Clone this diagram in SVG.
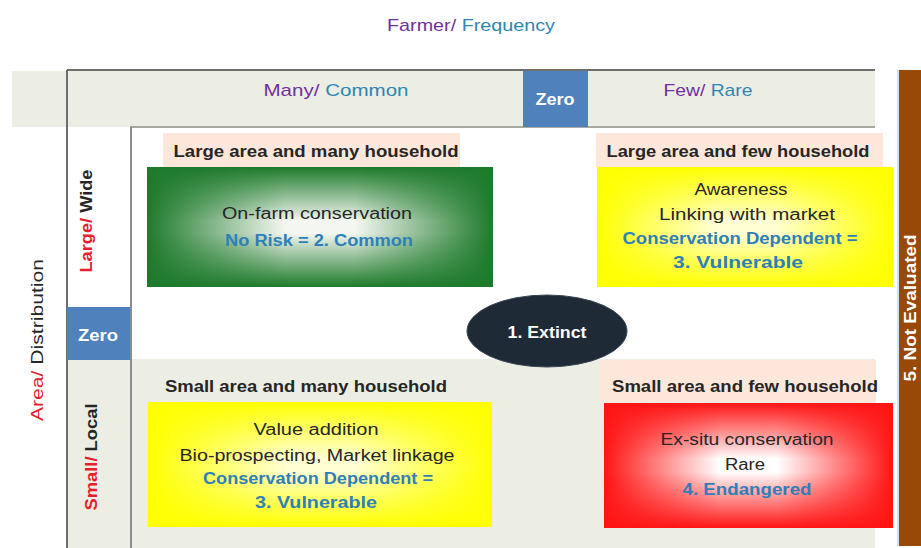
<svg xmlns="http://www.w3.org/2000/svg" width="921" height="548" viewBox="0 0 921 548">
<defs>
<linearGradient id="hGreen" x1="0" y1="0" x2="1" y2="0">
<stop offset="0" stop-color="#1d7a2b" stop-opacity="1"/>
<stop offset="0.4" stop-color="#1d7a2b" stop-opacity="0"/>
<stop offset="0.6" stop-color="#1d7a2b" stop-opacity="0"/>
<stop offset="1" stop-color="#1d7a2b" stop-opacity="1"/>
</linearGradient>
<linearGradient id="vGreen" x1="0" y1="0" x2="0" y2="1">
<stop offset="0" stop-color="#1d7a2b" stop-opacity="1"/>
<stop offset="0.45" stop-color="#1d7a2b" stop-opacity="0"/>
<stop offset="0.55" stop-color="#1d7a2b" stop-opacity="0"/>
<stop offset="1" stop-color="#1d7a2b" stop-opacity="1"/>
</linearGradient>
<linearGradient id="hYellow" x1="0" y1="0" x2="1" y2="0">
<stop offset="0" stop-color="#ffff00" stop-opacity="1"/>
<stop offset="0.4" stop-color="#ffff00" stop-opacity="0"/>
<stop offset="0.6" stop-color="#ffff00" stop-opacity="0"/>
<stop offset="1" stop-color="#ffff00" stop-opacity="1"/>
</linearGradient>
<linearGradient id="vYellow" x1="0" y1="0" x2="0" y2="1">
<stop offset="0" stop-color="#ffff00" stop-opacity="1"/>
<stop offset="0.45" stop-color="#ffff00" stop-opacity="0"/>
<stop offset="0.55" stop-color="#ffff00" stop-opacity="0"/>
<stop offset="1" stop-color="#ffff00" stop-opacity="1"/>
</linearGradient>
<linearGradient id="hRed" x1="0" y1="0" x2="1" y2="0">
<stop offset="0" stop-color="#ff1414" stop-opacity="1"/>
<stop offset="0.4" stop-color="#ff1414" stop-opacity="0"/>
<stop offset="0.6" stop-color="#ff1414" stop-opacity="0"/>
<stop offset="1" stop-color="#ff1414" stop-opacity="1"/>
</linearGradient>
<linearGradient id="vRed" x1="0" y1="0" x2="0" y2="1">
<stop offset="0" stop-color="#ff1414" stop-opacity="1"/>
<stop offset="0.45" stop-color="#ff1414" stop-opacity="0"/>
<stop offset="0.55" stop-color="#ff1414" stop-opacity="0"/>
<stop offset="1" stop-color="#ff1414" stop-opacity="1"/>
</linearGradient>
</defs>
<style>
text{font-family:"Liberation Sans","DejaVu Sans",sans-serif;}
.t{font-size:16px;fill:#262626;text-anchor:middle;}
.b{font-size:16px;font-weight:bold;fill:#262626;text-anchor:middle;}
.blue{font-size:16px;font-weight:bold;fill:#2f7fb8;text-anchor:middle;}
.w{font-size:16px;font-weight:bold;fill:#ffffff;text-anchor:middle;}
.purple{fill:#7030a0;}
.teal{fill:#2f86b4;}
.red{fill:#e5202b;}
.band{fill:#ecede3;}
.peach{fill:#fce7da;}
.zero{fill:#4f81bd;}
.line{stroke:#6e6e6e;stroke-width:2;fill:none;}
</style>
<rect width="921" height="548" fill="#ffffff"/>

<g id="frame">
<rect class="band" x="12" y="71" width="863" height="56"/>
<rect class="band" x="130" y="359" width="745" height="189"/>
<rect class="band" x="67" y="360" width="63" height="188"/>
<line class="line" x1="67" y1="70" x2="875" y2="70"/>
<line class="line" x1="67" y1="70" x2="67" y2="548"/>
<line x1="130" y1="127" x2="875" y2="127" stroke="#a8a8a0" stroke-width="2"/>
<line x1="131" y1="127" x2="131" y2="548" stroke="#8c8c8c" stroke-width="2"/>
</g>

<g id="title">
<text x="471" y="31" font-size="17" text-anchor="middle" textLength="168" lengthAdjust="spacingAndGlyphs"><tspan class="purple">Farmer/</tspan><tspan class="teal"> Frequency</tspan></text>
</g>

<g id="header-many">
<text x="336" y="96" font-size="17" text-anchor="middle" textLength="145" lengthAdjust="spacingAndGlyphs"><tspan class="purple">Many/</tspan><tspan class="teal"> Common</tspan></text>
</g>
<g id="header-zero">
<rect class="zero" x="523" y="71" width="65" height="56"/>
<text class="w" x="555" y="105" textLength="39" lengthAdjust="spacingAndGlyphs">Zero</text>
</g>
<g id="header-few">
<text x="708" y="96" font-size="17" text-anchor="middle" textLength="89" lengthAdjust="spacingAndGlyphs"><tspan class="purple">Few/</tspan><tspan class="teal"> Rare</tspan></text>
</g>

<g id="axis-area">
<text transform="translate(43,340) rotate(-90)" font-size="17" text-anchor="middle" textLength="162" lengthAdjust="spacingAndGlyphs"><tspan class="red">Area/</tspan><tspan fill="#262626"> Distribution</tspan></text>
</g>
<g id="row-large">
<text transform="translate(92,221) rotate(-90)" font-size="16" font-weight="bold" text-anchor="middle" textLength="103" lengthAdjust="spacingAndGlyphs"><tspan class="red">Large/</tspan><tspan fill="#262626"> Wide</tspan></text>
</g>
<g id="row-zero">
<rect class="zero" x="67" y="307" width="63" height="53"/>
<text class="w" x="98" y="341" textLength="40" lengthAdjust="spacingAndGlyphs">Zero</text>
</g>
<g id="row-small">
<text transform="translate(97,457) rotate(-90)" font-size="16" font-weight="bold" text-anchor="middle" textLength="107" lengthAdjust="spacingAndGlyphs"><tspan class="red">Small/</tspan><tspan fill="#262626"> Local</tspan></text>
</g>

<g id="not-evaluated">
<rect x="899" y="70" width="22" height="476" fill="#984807"/>
<line x1="898" y1="70" x2="898" y2="546" stroke="#c9d6e3" stroke-width="1.5"/>
<text class="w" transform="translate(916,308) rotate(-90)" font-size="15" textLength="147" lengthAdjust="spacingAndGlyphs">5. Not Evaluated</text>
</g>

<g id="large-many">
<rect class="peach" x="163" y="133" width="297" height="34"/>
<text class="b" x="316" y="157" font-size="17" textLength="285" lengthAdjust="spacingAndGlyphs">Large area and many household</text>
<rect x="147" y="167" width="346" height="120" fill="#f4f7f1"/>
<rect x="147" y="167" width="346" height="120" fill="url(#hGreen)"/>
<rect x="147" y="167" width="346" height="120" fill="url(#vGreen)"/>
<text class="t" x="317" y="219" textLength="190" lengthAdjust="spacingAndGlyphs">On-farm conservation</text>
<text class="blue" x="319" y="246" textLength="188" lengthAdjust="spacingAndGlyphs">No Risk = 2. Common</text>
</g>

<g id="large-few">
<rect class="peach" x="596" y="133" width="287" height="34"/>
<text class="b" x="738" y="157" font-size="17" textLength="263" lengthAdjust="spacingAndGlyphs">Large area and few household</text>
<rect x="597" y="167" width="296" height="120" fill="#ffffd2"/>
<rect x="597" y="167" width="296" height="120" fill="url(#hYellow)"/>
<rect x="597" y="167" width="296" height="120" fill="url(#vYellow)"/>
<text class="t" x="741" y="195" textLength="93" lengthAdjust="spacingAndGlyphs">Awareness</text>
<text class="t" x="747" y="220" textLength="176" lengthAdjust="spacingAndGlyphs">Linking with market</text>
<text class="blue" x="740" y="244" textLength="235" lengthAdjust="spacingAndGlyphs">Conservation Dependent =</text>
<text class="blue" x="738" y="268" textLength="130" lengthAdjust="spacingAndGlyphs">3. Vulnerable</text>
</g>

<g id="extinct">
<ellipse cx="547" cy="331" rx="80" ry="36" fill="#1e2a35" stroke="#3a4654" stroke-width="1"/>
<text class="w" x="547" y="338" textLength="79" lengthAdjust="spacingAndGlyphs">1. Extinct</text>
</g>

<g id="small-many">
<text class="b" x="306" y="392" font-size="17" textLength="282" lengthAdjust="spacingAndGlyphs">Small area and many household</text>
<rect x="148" y="402" width="344" height="125" fill="#ffffd2"/>
<rect x="148" y="402" width="344" height="125" fill="url(#hYellow)"/>
<rect x="148" y="402" width="344" height="125" fill="url(#vYellow)"/>
<text class="t" x="316" y="435" textLength="125" lengthAdjust="spacingAndGlyphs">Value addition</text>
<text class="t" x="317" y="461" textLength="275" lengthAdjust="spacingAndGlyphs">Bio-prospecting, Market linkage</text>
<text class="blue" x="318" y="484" textLength="230" lengthAdjust="spacingAndGlyphs">Conservation Dependent =</text>
<text class="blue" x="316" y="508" textLength="122" lengthAdjust="spacingAndGlyphs">3. Vulnerable</text>
</g>

<g id="small-few">
<rect class="peach" x="600" y="360" width="276" height="42"/>
<text class="b" x="745" y="392" font-size="17" textLength="266" lengthAdjust="spacingAndGlyphs">Small area and few household</text>
<rect x="604" y="403" width="289" height="125" fill="#ffffff"/>
<rect x="604" y="403" width="289" height="125" fill="url(#hRed)"/>
<rect x="604" y="403" width="289" height="125" fill="url(#vRed)"/>
<text class="t" x="747" y="445" textLength="173" lengthAdjust="spacingAndGlyphs">Ex-situ conservation</text>
<text class="t" x="745" y="470" textLength="40" lengthAdjust="spacingAndGlyphs">Rare</text>
<text class="blue" x="747" y="495" textLength="129" lengthAdjust="spacingAndGlyphs">4. Endangered</text>
</g>

<g id="connectors"></g>
</svg>
